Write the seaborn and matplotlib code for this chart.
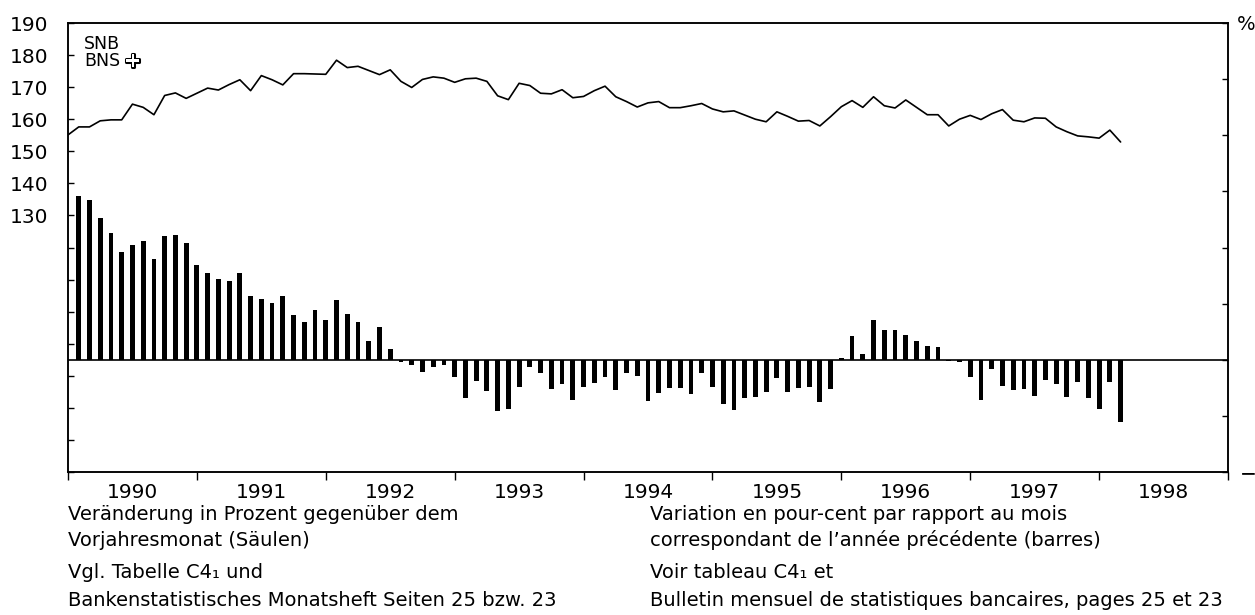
import numpy as np
import matplotlib
matplotlib.use("Agg")
import matplotlib.pyplot as plt
import matplotlib.patheffects as pe
import seaborn as sns

# level, end of month, Dec 1989 .. Feb 1998 (left scale)
level = [155.1, 157.6, 157.6, 159.5, 159.8, 159.8, 164.7, 163.7, 161.4, 167.4,
         168.2, 166.5, 168.1, 169.7, 169.1, 170.8, 172.3, 168.9, 173.6, 172.3,
         170.7, 174.2, 174.2, 174.1, 174.0, 178.4, 176.1, 176.5, 175.2, 173.9,
         175.4, 171.8, 169.9, 172.4, 173.2, 172.8, 171.5, 172.6, 172.8, 171.8,
         167.3, 166.1, 171.2, 170.5, 168.1, 167.9, 169.2, 166.7, 167.1, 168.9,
         170.3, 167.0, 165.5, 163.8, 165.1, 165.5, 163.6, 163.6, 164.2, 164.9,
         163.2, 162.3, 162.6, 161.3, 160.0, 159.2, 162.3, 160.9, 159.4, 159.6,
         157.9, 160.8, 163.9, 165.8, 163.7, 167.0, 164.2, 163.5, 166.0, 163.7,
         161.4, 161.4, 157.9, 160.0, 161.2, 159.9, 161.7, 163.0, 159.7, 159.2,
         160.4, 160.3, 157.6, 156.1, 154.8, 154.5, 154.1, 156.6, 152.9]

# change against same month of previous year in %, Jan 1990 .. Feb 1998 (right scale)
change = [14.6, 14.2, 12.6, 11.3, 9.6, 10.2, 10.6, 9.0, 11.0, 11.1,
          10.4, 8.4, 7.7, 7.2, 7.0, 7.7, 5.7, 5.4, 5.1, 5.7,
          4.0, 3.4, 4.4, 3.5, 5.3, 4.1, 3.4, 1.7, 2.9, 1.0,
          -0.24, -0.47, -1.07, -0.63, -0.45, -1.52, -3.37, -1.88, -2.77, -4.56,
          -4.41, -2.41, -0.69, -1.19, -2.62, -2.17, -3.58, -2.41, -2.03, -1.52,
          -2.68, -1.19, -1.49, -3.67, -2.92, -2.53, -2.48, -3.07, -1.19, -2.41,
          -3.96, -4.47, -3.43, -3.31, -2.86, -1.64, -2.86, -2.56, -2.41, -3.76,
          -2.62, 0.2, 2.15, 0.5, 3.58, 2.65, 2.65, 2.2, 1.64, 1.19,
          1.1, -0.1, -0.18, -1.52, -3.58, -0.83, -2.33, -2.71, -2.62, -3.22,
          -1.79, -2.12, -3.31, -1.94, -3.37, -4.36, -1.97, -5.52]

years = ["1990", "1991", "1992", "1993", "1994", "1995", "1996", "1997", "1998"]
left_ticks = [50, 60, 70, 80, 90, 100, 110, 120, 130, 140, 150, 160, 170, 180, 190]
right_ticks = [-10, -5, 0, 5, 10, 15, 20, 25, 30]

line_month = np.arange(len(level))
bar_month = np.arange(1, len(change) + 1)

sns.set_style("ticks")
plt.rcParams["font.family"] = ["DejaVu Sans"]
plt.rcParams["axes.edgecolor"] = "black"
plt.rcParams["xtick.color"] = "black"
plt.rcParams["ytick.color"] = "black"
plt.rcParams["text.color"] = "black"
plt.rcParams["axes.unicode_minus"] = True

W, H = 1255, 615
fig = plt.figure(figsize=(W / 100, H / 100), dpi=100)
ax = fig.add_axes([68 / W, 1 - 472 / H, 1160 / W, 449 / H])
ax2 = ax.twinx()

sns.lineplot(x=line_month, y=level, ax=ax, color="black", linewidth=1.2)
ax2.axhline(0, color="black", linewidth=1.2)
sns.barplot(x=bar_month, y=change, ax=ax2, native_scale=True, width=0.45,
            color="black", saturation=1, errorbar=None, linewidth=0)

ax.set_xlim(0, 108)
ax.set_ylim(50, 190)
ax2.set_ylim(-10, 30)

ax.set_yticks(left_ticks)
ax.set_yticklabels([str(v) if v >= 130 else "" for v in left_ticks])
ax.tick_params(axis="y", direction="in", length=4, width=1, pad=14, labelsize=14.5)

# right scale labels sit mostly beyond the page edge, as in the print
ax2.set_yticks(right_ticks)
ax2.set_yticklabels([("\u2212" + str(-v)) if v < 0 else ("" if v == 30 else str(v))
                     for v in right_ticks])
ax2.tick_params(axis="y", direction="in", length=4, width=1, pad=39, labelsize=14.5)
plt.setp(ax2.get_yticklabels(), ha="right")

ax.set_xticks(np.arange(0, 109, 12))
ax.set_xticklabels([])
ax.set_xticks(np.arange(6, 108, 12), minor=True)
ax.set_xticklabels(years, minor=True)
ax.tick_params(axis="x", which="major", direction="out", length=6, width=1)
ax.tick_params(axis="x", which="minor", length=0, pad=8, labelsize=14.5)

for a in (ax, ax2):
    a.set_xlabel("")
    a.set_ylabel("")
    for s in a.spines.values():
        s.set_visible(True)
        s.set_linewidth(1.1)
        s.set_color("black")

fig.text(1237 / W, 1 - 25 / H, "%", fontsize=14, va="center", ha="left")
fig.text(84 / W, 1 - 44 / H, "SNB", fontsize=12.5, va="center", ha="left")
fig.text(84 / W, 1 - 61 / H, "BNS", fontsize=12.5, va="center", ha="left")
fig.text(124 / W, 1 - 61 / H, "+", fontsize=15, fontweight="bold", color="white",
         va="center", ha="left",
         path_effects=[pe.Stroke(linewidth=2.2, foreground="black"), pe.Normal()])

rows = [515, 540, 573, 600]
left_txt = ["Veränderung in Prozent gegenüber dem",
            "Vorjahresmonat (Säulen)",
            "Vgl. Tabelle C4\u2081 und",
            "Bankenstatistisches Monatsheft Seiten 25 bzw. 23"]
right_txt = ["Variation en pour-cent par rapport au mois",
             "correspondant de l\u2019année précédente (barres)",
             "Voir tableau C4\u2081 et",
             "Bulletin mensuel de statistiques bancaires, pages 25 et 23"]
for y, lt, rt in zip(rows, left_txt, right_txt):
    fig.text(68 / W, 1 - y / H, lt, fontsize=14, va="center", ha="left")
    fig.text(650 / W, 1 - y / H, rt, fontsize=14, va="center", ha="left")

fig.savefig("out.png", dpi=100)
